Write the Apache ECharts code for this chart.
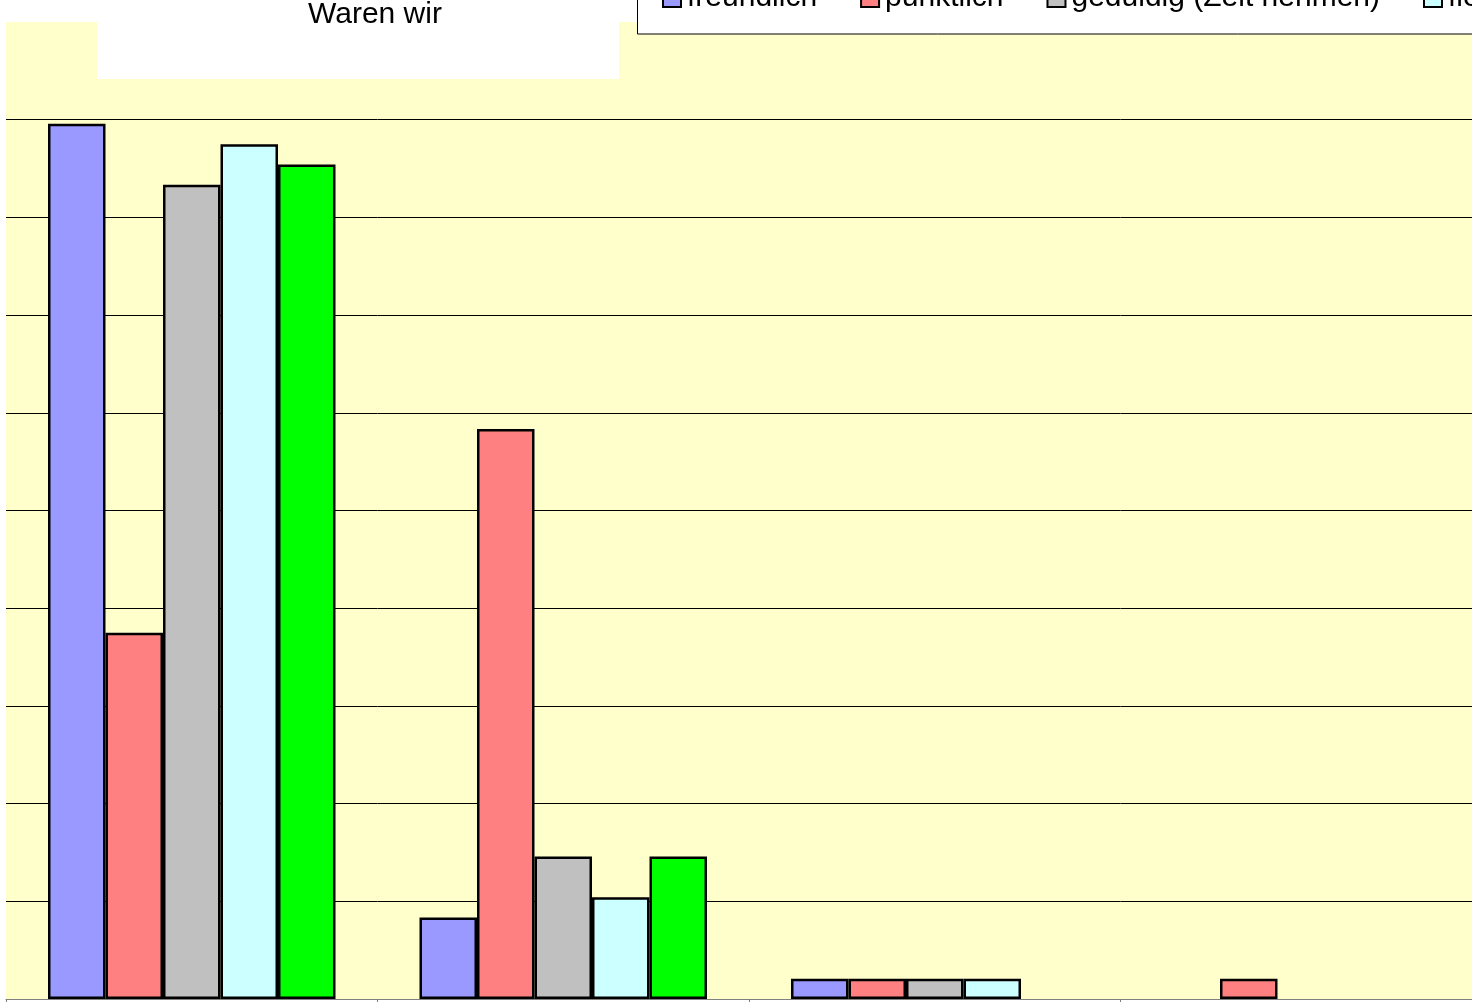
<!DOCTYPE html>
<html>
<head>
<meta charset="utf-8">
<script src="https://cdn.jsdelivr.net/npm/echarts@6/dist/echarts.min.js"></script>
<style>
  html, body { margin: 0; padding: 0; background: #fff; overflow: hidden; }
  #chart { width: 2200px; height: 1002px; }
</style>
</head>
<body>
<div id="chart"></div>
<script>
// Anteile in Prozent (je Kategorie)
const categories = ["Kategorie 1", "Kategorie 2", "Kategorie 3", "Kategorie 4"];
const freundlich = [89.58, 8.33, 2.08, 0];
const puenktlich = [37.5, 58.33, 2.08, 2.08];
const geduldig = [83.33, 14.58, 2.08, 0];
const flexibel = [87.5, 10.42, 2.08, 0];
const fuenfte = [85.42, 14.58, 0, 0];
const seriesNames = ["freundlich", "pünktlich", "geduldig (Zeit nehmen)", "flexibel", "kompetent"];
const seriesColors = ["#9999FF", "#FF8080", "#C0C0C0", "#CCFFFF", "#00FF00"];

const font = "'Liberation Sans', Arial, sans-serif";
const allData = [freundlich, puenktlich, geduldig, flexibel, fuenfte];

const chart = echarts.init(document.getElementById("chart"));

const option = {
  animation: false,
  textStyle: { fontFamily: font },
  title: {
    text: "Waren wir",
    left: 308,
    top: 0,
    padding: 0,
    z: 20,
    textStyle: { fontFamily: font, fontSize: 30, fontWeight: "normal", color: "#000" },
  },
  legend: {
    left: 662,
    top: -17,
    padding: 0,
    width: 1800,
    itemWidth: 18,
    itemHeight: 18,
    itemGap: 43,
    icon: "rect",
    z: 20,
    textStyle: { fontFamily: font, fontSize: 30, color: "#000", padding: [0, 0, 0, 1] },
    data: seriesNames,
  },
  graphic: [
    {
      type: "rect",
      z: 10,
      shape: { x: 97, y: -10, width: 522, height: 89 },
      style: { fill: "#fff" },
    },
    {
      type: "rect",
      z: 10,
      shape: { x: 637.5, y: -10, width: 1200, height: 44 },
      style: { fill: "#fff", stroke: "#000", lineWidth: 1 },
    },
  ],
  grid: {
    left: 6,
    right: 708,
    top: 22,
    bottom: 3,
    show: true,
    backgroundColor: "#FFFFCC",
    borderWidth: 0,
  },
  xAxis: {
    type: "category",
    data: categories,
    axisLine: { lineStyle: { color: "#808080", width: 1 } },
    axisTick: { show: true, length: 6, lineStyle: { color: "#808080" } },
    axisLabel: { show: false },
  },
  yAxis: {
    type: "value",
    min: 0,
    max: 100,
    interval: 10,
    axisLine: { show: false },
    axisTick: { show: false },
    axisLabel: { show: false },
    splitLine: {
      lineStyle: {
        color: ["#000", "#000", "#000", "#000", "#000", "#000", "#000", "#000", "#000", "#000", "transparent"],
        width: 1,
      },
    },
  },
  series: seriesNames.map((name, i) => ({
    name: name,
    type: "bar",
    barWidth: 57.5,
    barGap: "0%",
    itemStyle: { color: seriesColors[i], borderColor: "#000", borderWidth: 2.5 },
    // leere Balken (0) nicht als Strich zeichnen
    data: allData[i].map((v) => (v === 0 ? null : v)),
  })),
};

chart.setOption(option);
</script>
</body>
</html>
